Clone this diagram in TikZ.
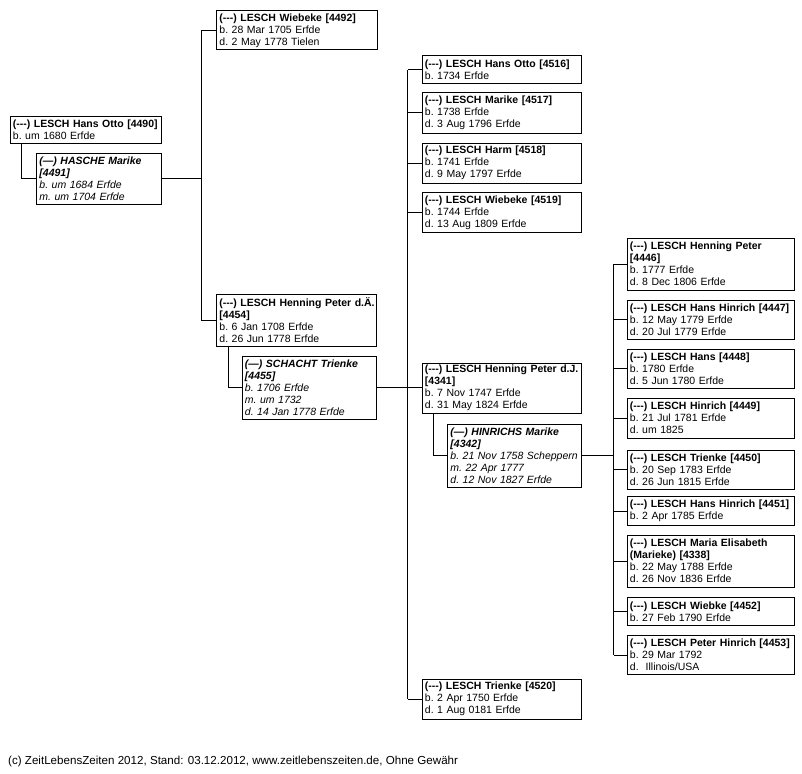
\documentclass[tikz,border=0pt]{standalone}
\usepackage{fontspec}
\setmainfont{Liberation Sans}
\newcommand{\hy}{(-{}-{}-)}
\begin{document}
\begin{tikzpicture}[x=1pt,y=-1pt,
  pbox/.style={draw, line width=0.9pt, anchor=north west, align=left,
    inner xsep=3pt, inner ysep=1.5pt, font=\fontsize{10.5}{12}\selectfont,
    execute at begin node={\frenchspacing\hyphenpenalty=10000}},
  spbox/.style={pbox, font=\fontsize{10.5}{12}\selectfont\itshape},
  link/.style={draw, line width=0.9pt}]
\path[use as bounding box] (0,0) rectangle (802,773);

% generation 1
\node[pbox, text width=145pt, minimum height=27pt] (n4490) at (9.5,115.5)
  {\textbf{\mbox{\hy{} LESCH Hans Otto [4490]}}\\b. um 1680 Erfde};
\node[spbox, text width=118.5pt, minimum height=51pt] (n4491) at (36,152.5)
  {\textbf{\mbox{(---) HASCHE Marike}\\{[4491]}}\\b. um 1684 Erfde\\m. um 1704 Erfde};

% generation 2
\node[pbox, text width=154.5pt, minimum height=39pt] (n4492) at (216,10.5)
  {\textbf{\mbox{\hy{} LESCH Wiebeke [4492]}}\\b. 28 Mar 1705 Erfde\\d. 2 May 1778 Tielen};
\node[pbox, text width=154pt, minimum height=52pt] (n4454) at (216,293.5)
  {\textbf{\mbox{\hy{} LESCH Henning Peter d.Ä.}\\{[4454]}}\\b. 6 Jan 1708 Erfde\\d. 26 Jun 1778 Erfde};
\node[spbox, text width=128.5pt, minimum height=63pt] (n4455) at (241.5,355.5)
  {\textbf{\mbox{(---) SCHACHT Trienke}\\{[4455]}}\\b. 1706 Erfde\\m. um 1732\\d. 14 Jan 1778 Erfde};

% generation 3
\node[pbox, text width=153pt, minimum height=28pt] (n4516) at (421.5,55.5)
  {\textbf{\mbox{\hy{} LESCH Hans Otto [4516]}}\\b. 1734 Erfde};
\node[pbox, text width=153pt, minimum height=40pt] (n4517) at (421.5,92.5)
  {\textbf{\mbox{\hy{} LESCH Marike [4517]}}\\b. 1738 Erfde\\d. 3 Aug 1796 Erfde};
\node[pbox, text width=153pt, minimum height=40pt] (n4518) at (421.5,142.5)
  {\textbf{\mbox{\hy{} LESCH Harm [4518]}}\\b. 1741 Erfde\\d. 9 May 1797 Erfde};
\node[pbox, text width=153pt, minimum height=40pt] (n4519) at (421.5,192)
  {\textbf{\mbox{\hy{} LESCH Wiebeke [4519]}}\\b. 1744 Erfde\\d. 13 Aug 1809 Erfde};
\node[pbox, text width=153pt, minimum height=50pt] (n4341) at (421.5,362.5)
  {\textbf{\mbox{\hy{} LESCH Henning Peter d.J.}\\{[4341]}}\\b. 7 Nov 1747 Erfde\\d. 31 May 1824 Erfde};
\node[spbox, text width=127.5pt, minimum height=63pt] (n4342) at (447,423.5)
  {\textbf{\mbox{(---) HINRICHS Marike}\\{[4342]}}\\\mbox{b. 21 Nov 1758 Scheppern}\\m. 22 Apr 1777\\d. 12 Nov 1827 Erfde};
\node[pbox, text width=153pt, minimum height=39.5pt] (n4520) at (421.5,679)
  {\textbf{\mbox{\hy{} LESCH Trienke [4520]}}\\b. 2 Apr 1750 Erfde\\d. 1 Aug 0181 Erfde};

% generation 4
\node[pbox, text width=161pt, minimum height=52pt] (n4446) at (626.5,237.5)
  {\textbf{\mbox{\hy{} LESCH Henning Peter}\\{[4446]}}\\b. 1777 Erfde\\d. 8 Dec 1806 Erfde};
\node[pbox, text width=161pt, minimum height=39pt] (n4447) at (626.5,299.5)
  {\textbf{\mbox{\hy{} LESCH Hans Hinrich [4447]}}\\b. 12 May 1779 Erfde\\d. 20 Jul 1779 Erfde};
\node[pbox, text width=161pt, minimum height=39pt] (n4448) at (626.5,348.5)
  {\textbf{\mbox{\hy{} LESCH Hans [4448]}}\\b. 1780 Erfde\\d. 5 Jun 1780 Erfde};
\node[pbox, text width=161pt, minimum height=40pt] (n4449) at (626.5,397.5)
  {\textbf{\mbox{\hy{} LESCH Hinrich [4449]}}\\b. 21 Jul 1781 Erfde\\d. um 1825};
\node[pbox, text width=161pt, minimum height=39pt] (n4450) at (626.5,449.5)
  {\textbf{\mbox{\hy{} LESCH Trienke [4450]}}\\b. 20 Sep 1783 Erfde\\d. 26 Jun 1815 Erfde};
\node[pbox, text width=161pt, minimum height=29pt] (n4451) at (626.5,496)
  {\textbf{\mbox{\hy{} LESCH Hans Hinrich [4451]}}\\b. 2 Apr 1785 Erfde};
\node[pbox, text width=161pt, minimum height=52pt] (n4338) at (626.5,534.5)
  {\textbf{\mbox{\hy{} LESCH Maria Elisabeth}\\\mbox{(Marieke) [4338]}}\\b. 22 May 1788 Erfde\\d. 26 Nov 1836 Erfde};
\node[pbox, text width=161pt, minimum height=28pt] (n4452) at (626.5,597)
  {\textbf{\mbox{\hy{} LESCH Wiebke [4452]}}\\b. 27 Feb 1790 Erfde};
\node[pbox, text width=161pt, minimum height=39pt] (n4453) at (626.5,635)
  {\textbf{\mbox{\hy{} LESCH Peter Hinrich [4453]}}\\b. 29 Mar 1792\\d.~\ Illinois/USA};

% bus coordinates
\coordinate (bus1) at (201.5,0);
\coordinate (bus2) at (407.5,0);
\coordinate (bus3) at (613.5,0);

% connectors
\path[link] ([xshift=12pt]n4490.south west) |- (n4491.west);
\path[link] (n4491.east) -- (n4491.east -| bus1);
\path[link] (n4492.west) -- (n4492.west -| bus1) -- (n4454.west -| bus1) -- (n4454.west);

\path[link] ([xshift=12pt]n4454.south west) |- (n4455.west);
\path[link] (n4455.east) -- (n4455.east -| n4341.west);
\path[link] (n4516.west -| bus2) -- (n4520.west -| bus2);
\foreach \c in {n4516,n4517,n4518,n4519,n4520}
  \path[link] (\c.west) -- (\c.west -| bus2);

\path[link] ([xshift=12pt]n4341.south west) |- (n4342.west);
\path[link] (n4342.east) -- (n4342.east -| bus3);
\path[link] (n4446.west -| bus3) -- (n4453.west -| bus3);
\foreach \c in {n4446,n4447,n4448,n4449,n4450,n4451,n4338,n4452,n4453}
  \path[link] (\c.west) -- (\c.west -| bus3);

% footer
\node[anchor=west, inner sep=0pt, font=\fontsize{11.6}{13}\selectfont] (foot) at (8,761.5)
  {(c) ZeitLebensZeiten 2012, Stand: 03.12.2012, www.zeitlebenszeiten.de, Ohne Gewähr};
\end{tikzpicture}
\end{document}
